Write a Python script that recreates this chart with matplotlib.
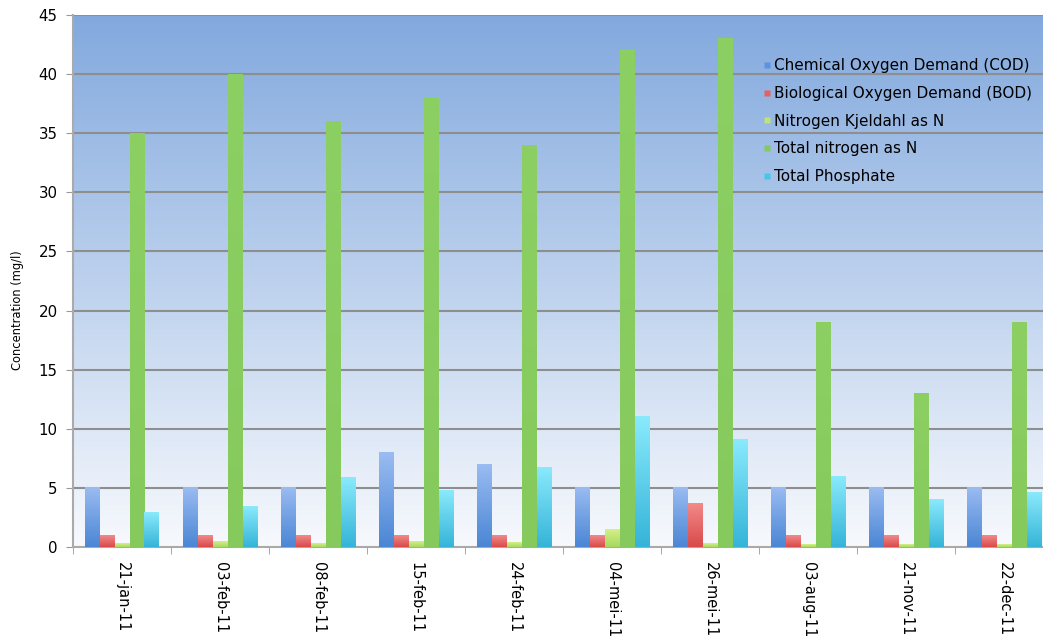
import numpy as np
import matplotlib.pyplot as plt
from matplotlib.colors import LinearSegmentedColormap
from matplotlib.lines import Line2D

dates = ['21-jan-11', '03-feb-11', '08-feb-11', '15-feb-11', '24-feb-11',
         '04-mei-11', '26-mei-11', '03-aug-11', '21-nov-11', '22-dec-11']
cod = [5, 5, 5, 8, 7, 5, 5, 5, 5, 5]
bod = [1, 1, 1, 1, 1, 1, 3.7, 1, 1, 1]
kjeldahl = [0.3, 0.5, 0.3, 0.5, 0.4, 1.5, 0.3, 0.2, 0.2, 0.2]
total_n = [35, 40, 36, 38, 34, 42, 43, 19, 13, 19]
phosphate = [2.9, 3.4, 5.9, 4.8, 6.7, 11, 9.1, 6.0, 4.0, 4.6]

series = [
    ('Chemical Oxygen Demand (COD)', cod, '#4a86d4', '#9abcf2', '#5b93e0'),
    ('Biological Oxygen Demand (BOD)', bod, '#d94a4a', '#f28a8a', '#e66060'),
    ('Nitrogen Kjeldahl as N', kjeldahl, '#a8d860', '#d4f088', '#bde477'),
    ('Total nitrogen as N', total_n, '#86c95c', '#8ccf62', '#86c95c'),
    ('Total Phosphate', phosphate, '#35b4d8', '#8aeafc', '#45c8e6'),
]

fig = plt.figure(figsize=(10.43, 6.38), dpi=100)
ax = fig.add_axes([73 / 1043, 1 - 547 / 638, 1 - 73 / 1043 + 0.01, (547 - 15) / 638])

# background gradient
bg = LinearSegmentedColormap.from_list('bg', ['#f7f9fd', '#82a9de'])
grad = np.linspace(0, 1, 256).reshape(-1, 1)
xmax = -0.5 + (1043 - 73) / 98.3
ax.imshow(grad, cmap=bg, origin='lower', aspect='auto',
          extent=[-0.5, xmax + 0.2, 0, 45], zorder=0)

width = 15 / 98.3
x = np.arange(len(dates))
handles = []
for k, (name, vals, dark, light, legc) in enumerate(series):
    off = (k - 2) * width
    cm = LinearSegmentedColormap.from_list(name, [dark, light])
    for xi, v in zip(x, vals):
        ax.imshow(grad, cmap=cm, origin='lower', aspect='auto',
                  extent=[xi + off - width / 2, xi + off + width / 2, 0, v], zorder=3)
    handles.append(Line2D([], [], marker='s', linestyle='none', markersize=5,
                          markerfacecolor=legc, markeredgecolor='none', label=name))

ax.set_xlim(-0.5, xmax)
ax.set_ylim(0, 45)
ax.set_yticks(range(0, 46, 5))
for y in range(5, 46, 5):
    ax.axhline(y, color='#8e8e8e', linewidth=1.5, zorder=1)

ax.set_xticks(x)
ax.set_xticklabels(dates, rotation=270, fontsize=10.5)
ax.set_xticks(np.arange(-0.5, 10, 1), minor=True)
ax.tick_params(axis='x', which='major', length=0, pad=11)
ax.tick_params(axis='x', which='minor', length=5, color='#999999')
ax.tick_params(axis='y', length=5, color='#999999', labelsize=10.8, pad=6)

for s in ['top', 'right']:
    ax.spines[s].set_visible(False)
for s in ['left', 'bottom']:
    ax.spines[s].set_color('#aaaaaa')
    ax.spines[s].set_linewidth(1.5)

ax.set_ylabel('Concentration (mg/l)', fontsize=8.3)
ax.yaxis.set_label_coords(-0.05, 0.445)

ax.legend(handles=handles, loc='upper left', bbox_to_anchor=(0.692, 0.93),
          frameon=False, fontsize=11, handletextpad=-0.1, labelspacing=0.83,
          borderaxespad=0, handlelength=1.2)

fig.savefig('out.png', dpi=100)
